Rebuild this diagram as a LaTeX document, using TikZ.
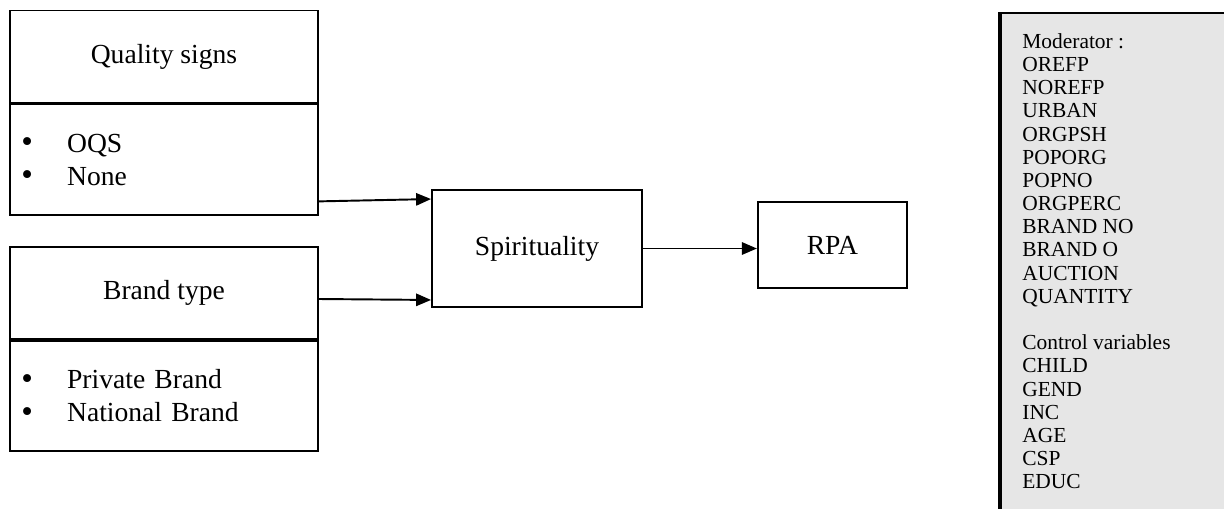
\documentclass[tikz,border=0pt]{standalone}
\usepackage{fontspec}
\setmainfont{Liberation Serif}
\usepackage{xcolor}
\usepackage{tikz}
\usetikzlibrary{positioning,arrows.meta,calc}
\definecolor{modgray}{HTML}{E6E6E6}
\newcommand{\itembul}{\makebox[26pt][l]{\raisebox{-0.3pt}{\scalebox{1.2}{\textbullet}}}}

\begin{document}
\begin{tikzpicture}[x=0.02cm, y=-0.02cm,
  head/.style={draw, line width=1.1pt, minimum width=6.16cm, minimum height=1.84cm,
               font=\fontsize{15.7}{18.7}\selectfont, inner sep=0pt},
  items/.style={draw, line width=1.1pt, minimum height=2.2cm, text width=6.16cm-13pt,
                align=left, inner xsep=6.5pt, inner ysep=0pt, font=\fontsize{15.7}{18.7}\selectfont},
  block/.style={draw, line width=1.1pt, font=\fontsize{15.7}{18.7}\selectfont, inner sep=0pt},
  flow/.style={-{Triangle[length=8.5pt, width=7pt]}, line width=1.1pt},
  node distance=0pt]
\useasboundingbox (0,0) rectangle (1224,508);
\clip (0,0) rectangle (1224,508);
% inputs
\node[head] (qtitle) at (164,56.5) {Quality signs};
\node[items, below=of qtitle, minimum height=2.22cm] (qlist)
  {\itembul OQS\\ \itembul None};
\node[head] (btitle) at (164,293) {Brand type};
\node[items, below=of btitle] (blist)
  {\itembul Private Brand\\ \itembul National Brand};
% mediator and outcome
\node[block, minimum width=4.2cm, minimum height=2.34cm] (spirit) at (537,248.5) {Spirituality};
\node[block, minimum width=2.98cm, minimum height=1.72cm, right=2.28cm of spirit, yshift=0.07cm] (rpa) {RPA};
% moderators and controls
\node[draw, fill=modgray, line width=1.1pt, anchor=north west, minimum width=6cm,
      minimum height=11cm] (mod) at (1000,12) {};
\draw[line width=2pt] (mod.north west) -- (mod.south west);
\node[anchor=north west, inner sep=0pt, align=left, font=\fontsize{12.2}{13.2}\selectfont] (modlist)
  at (1022,33) {Moderator :\\ OREFP\\ NOREFP\\ URBAN\\ ORGPSH\\ POPORG\\ POPNO\\ ORGPERC\\
  BRAND NO\\ BRAND O\\ AUCTION\\ QUANTITY\\[13.2pt] Control variables\\ CHILD\\ GEND\\ INC\\
  AGE\\ CSP\\ EDUC};
% links
\draw[flow] ([yshift=0.3cm]qlist.south east) -- ([yshift=-0.2cm]spirit.north west);
\draw[flow] ([yshift=-0.12cm]btitle.east) -- ([yshift=0.16cm]spirit.south west);
\draw[flow] (spirit.east) -- (spirit.east -| rpa.west);
\end{tikzpicture}
\end{document}
